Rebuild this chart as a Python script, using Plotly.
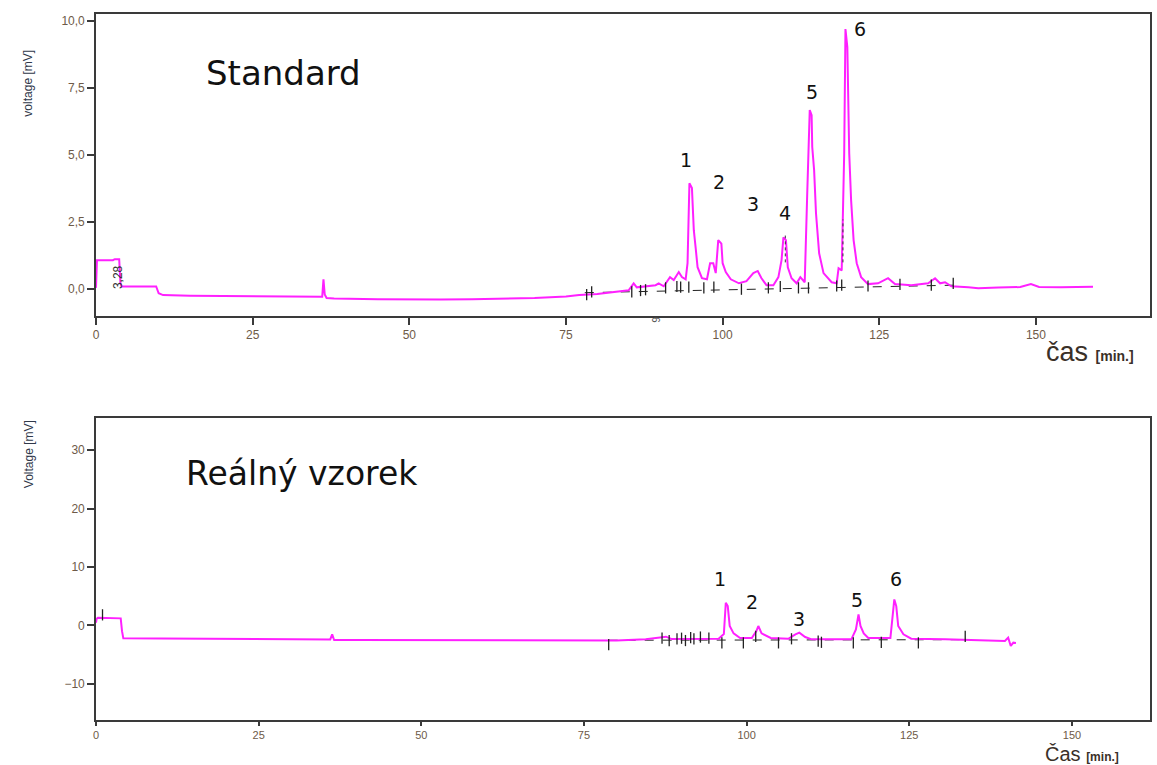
import plotly.graph_objects as go

# ---------------- data: Standard (top) ----------------
std_time = [0.0, 0.1, 0.15, 2.7, 3.0, 3.7, 3.9, 4.1, 4.4, 9.6, 10.0, 10.7, 15, 20, 25, 30, 35.6, 36.1, 36.3, 36.5, 36.8,
            38, 45, 50, 55, 60, 65, 70, 75, 77.1, 80, 82, 85.0, 85.8, 86.3, 89.3, 89.8, 90.6, 91.6, 92.2, 93.0,
            93.5, 94.1, 94.4, 94.7, 95.1, 95.4, 95.7, 96.0, 96.7, 97.5, 98.0, 98.5, 98.9, 99.3, 99.8, 100.0,
            100.5, 101.3, 102.6, 103.8, 104.9, 105.6, 106.2, 107.0, 108.1, 108.9, 109.4, 109.7, 110.1, 110.4,
            111.0, 111.8, 112.4, 113.1, 113.5, 113.9, 114.2, 114.3, 114.6, 114.9, 115.4, 116.1, 117.4, 118.2,
            118.5, 119.0, 119.4, 119.6, 119.9, 120.2, 120.5, 120.9, 121.4, 122.1, 123.2, 124.8, 126.4, 127.5,
            130.1, 132.8, 133.9, 134.7, 135.5, 136.5, 139.2, 140.8, 144.0, 147.5, 149.2, 150.5, 154, 157, 159.1]
std_voltage = [0.05, 0.6, 1.08, 1.08, 1.12, 1.12, 0.22, 0.1, 0.1, 0.1, -0.15, -0.22, -0.24, -0.25, -0.26, -0.27, -0.28, -0.28, 0.37, -0.2, -0.33,
               -0.35, -0.37, -0.38, -0.38, -0.37, -0.36, -0.33, -0.27, -0.22, -0.18, -0.12, -0.04, 0.22, 0.07, 0.15, 0.22, 0.11, 0.45, 0.34, 0.64,
               0.45, 0.37, 0.97, 3.95, 3.77, 2.2, 1.53, 0.82, 0.41, 0.37, 0.97, 0.97, 0.6, 1.83, 1.7, 0.97,
               0.64, 0.37, 0.22, 0.3, 0.6, 0.68, 0.41, 0.15, 0.15, 0.45, 1.08, 1.93, 1.83, 0.82,
               0.41, 0.22, 0.45, 0.26, 3.57, 6.68, 6.49, 5.3, 4.44, 2.83, 1.34, 0.6, 0.26, 0.22,
               0.78, 0.7, 5.07, 9.7, 9.03, 5.07, 3.32, 1.83, 0.97, 0.45, 0.19, 0.22, 0.41, 0.19,
               0.15, 0.22, 0.41, 0.22, 0.26, 0.11, 0.07, 0.04, 0.06, 0.08, 0.19, 0.08, 0.07, 0.09, 0.09]

std_base_time = [78.0, 137.0]
std_base_voltage = [-0.13, 0.15]
std_mark_time = [78.3, 79.1, 85.5, 86.9, 87.7, 90.9, 92.7, 93.3, 94.6, 97.0, 98.6, 103.0, 107.3, 109.2,
                 112.1, 113.7, 118.2, 119.0, 123.2, 128.3, 133.3, 136.8]
std_mark_voltage = [-0.2, -0.1, -0.1, -0.05, -0.02, 0.05, 0.1, 0.08, 0.08, 0.05, 0.08, 0.0, 0.05, 0.1,
                    0.05, 0.05, 0.12, 0.15, 0.12, 0.18, 0.15, 0.22]
std_peak_time = [94.1, 99.4, 104.8, 110.0, 114.2, 122.0]
std_peak_level = [4.81, 3.99, 3.17, 2.84, 7.35, 9.70]
std_peak_label = ["1", "2", "3", "4", "5", "6"]

# ---------------- data: Reálný vzorek (bottom) ----------------
smp_time = [0.0, 0.1, 0.3, 3.4, 3.8, 4.0, 4.2, 10, 20, 28, 33.3, 36.0, 36.3, 36.6, 40, 50, 60, 70, 74.2,
            80, 84.5, 87.6, 88.5, 92, 95.7, 96.5, 96.8, 97.1, 97.4, 98.0, 99.0, 100.8, 101.5, 101.8, 102.3,
            103.7, 106.4, 107.5, 108.1, 109.0, 110.0, 116.1, 116.8, 117.2, 117.5, 118.0, 118.7, 122.1, 122.4,
            122.7, 123.0, 123.3, 124.1, 125.3, 130.5, 135, 139.7, 140.2, 140.6, 141.0, 141.4]
smp_voltage = [0.46, 1.14, 1.3, 1.3, 1.2, -1.0, -2.22, -2.24, -2.26, -2.28, -2.34, -2.4, -1.54, -2.5, -2.5, -2.55, -2.62, -2.65, -2.68,
               -2.6, -2.39, -1.94, -2.35, -2.3, -2.28, -1.5, 3.87, 3.3, -0.1, -1.37, -2.16, -2.16, -0.97, -0.11, -1.37,
               -2.16, -2.3, -1.54, -1.25, -2.0, -2.39, -2.39, -0.68, 1.88, -0.11, -1.37, -2.16, -2.16, 1.03,
               4.44, 3.3, -0.11, -1.54, -2.28, -2.39, -2.5, -2.68, -2.1, -3.53, -2.96, -3.0]

smp_base_time = [78.8, 134.0]
smp_base_voltage = [-2.55, -2.45]
smp_mark_time = [1.0, 78.8, 87.0, 88.1, 89.3, 90.0, 90.6, 91.4, 91.9, 92.9, 94.2, 96.2, 99.5, 101.4, 104.9,
                 106.9, 111.0, 111.5, 116.4, 120.7, 126.4, 133.6]
smp_mark_voltage = [1.8, -3.3, -2.2, -2.6, -2.3, -2.2, -2.6, -2.1, -2.3, -2.0, -2.2, -3.0, -3.0, -1.9, -3.0,
                    -2.3, -2.7, -2.9, -3.0, -2.9, -3.0, -1.9]
smp_peak_time = [95.9, 100.9, 108.1, 117.0, 123.0]
smp_peak_level = [7.86, 3.93, 1.03, 4.27, 7.86]
smp_peak_label = ["1", "2", "3", "5", "6"]

x_ticks = [0, 25, 50, 75, 100, 125, 150]
std_y_ticks = [0, 2.5, 5, 7.5, 10]
smp_y_ticks = [-10, 0, 10, 20, 30]

MAG = "#ff20ff"
TICKC = "#6e5a48"
LINEC = "#3a3a3a"

fig = go.Figure()

# top
fig.add_trace(go.Scatter(x=std_base_time, y=std_base_voltage, mode="lines",
                         line=dict(color="#222", width=1, dash="dash"), xaxis="x", yaxis="y"))
fig.add_trace(go.Scatter(x=std_time, y=std_voltage, mode="lines",
                         line=dict(color=MAG, width=2), xaxis="x", yaxis="y"))
fig.add_trace(go.Scatter(x=std_mark_time, y=std_mark_voltage, mode="markers",
                         marker=dict(symbol="line-ns", size=8, line=dict(width=1.3, color="#222")),
                         xaxis="x", yaxis="y"))
fig.add_trace(go.Scatter(x=[110.0, 110.0, None, 119.2, 119.2], y=[1.0, 2.0, None, 1.0, 2.6], mode="lines",
                         line=dict(color="#333", width=1, dash="dot"), xaxis="x", yaxis="y"))

# bottom
fig.add_trace(go.Scatter(x=smp_base_time, y=smp_base_voltage, mode="lines",
                         line=dict(color="#222", width=1, dash="dash"), xaxis="x2", yaxis="y2"))
fig.add_trace(go.Scatter(x=smp_time, y=smp_voltage, mode="lines",
                         line=dict(color=MAG, width=2), xaxis="x2", yaxis="y2"))
fig.add_trace(go.Scatter(x=smp_mark_time, y=smp_mark_voltage, mode="markers",
                         marker=dict(symbol="line-ns", size=8, line=dict(width=1.3, color="#222")),
                         xaxis="x2", yaxis="y2"))

ann = []
for t, v, s in zip(std_peak_time, std_peak_level, std_peak_label):
    ann.append(dict(x=t, y=v, xref="x", yref="y", text=s, showarrow=False,
                    font=dict(family="DejaVu Sans", size=19, color="#111")))
for t, v, s in zip(smp_peak_time, smp_peak_level, smp_peak_label):
    ann.append(dict(x=t, y=v, xref="x2", yref="y2", text=s, showarrow=False,
                    font=dict(family="DejaVu Sans", size=19, color="#111")))

ann.append(dict(x=29.9, y=8.06, xref="x", yref="y", text="Standard", showarrow=False,
                font=dict(family="DejaVu Sans", size=34, color="#111")))
ann.append(dict(x=31.7, y=26.0, xref="x2", yref="y2", text="Reálný vzorek", showarrow=False,
                font=dict(family="DejaVu Sans", size=33, color="#111")))

ann.append(dict(x=3.5, y=0.45, xref="x", yref="y", text="3,28", textangle=-90, showarrow=False,
                font=dict(family="Liberation Sans", size=12, color="#333")))
ann.append(dict(x=(657 - 96) / 1056, y=(720 - 320) / 706, xref="paper", yref="paper", text="6",
                textangle=90, showarrow=False, font=dict(family="Liberation Sans", size=10, color="#555")))

# axis titles
ann.append(dict(x=(19 - 96) / 1056, y=(720 - 48) / 706, xref="paper", yref="paper", text="voltage [mV]",
                textangle=-90, showarrow=False, font=dict(family="Liberation Sans", size=12, color="#30384a")))
ann.append(dict(x=(20 - 96) / 1056, y=(720 - 454) / 706, xref="paper", yref="paper", text="Voltage [mV]",
                textangle=-90, showarrow=False, font=dict(family="Liberation Sans", size=12, color="#30384a")))
ann.append(dict(x=(1046 - 96) / 1056, y=(720 - 352) / 706, xref="paper", yref="paper", xanchor="left",
                text="čas <span style='font-size:14px'><b>[min.]</b></span>", showarrow=False,
                font=dict(family="Liberation Sans", size=27, color="#3a3028")))
ann.append(dict(x=(1046 - 96) / 1056, y=(720 - 766) / 706, xref="paper", yref="paper", xanchor="left",
                yanchor="bottom", borderpad=0,
                text="Čas <span style='font-size:12px'><b>[min.]</b></span>", showarrow=False,
                font=dict(family="Liberation Sans", size=20, color="#3a3028")))

axis_common = dict(showline=True, mirror=True, linecolor=LINEC, linewidth=1.6, showgrid=False, zeroline=False,
                   ticks="outside", ticklen=7, tickwidth=1.6, tickcolor=LINEC,
                   tickfont=dict(family="Liberation Sans", size=12, color=TICKC))
axis_bottom = dict(axis_common, ticklen=4, tickfont=dict(family="Liberation Sans", size=11, color=TICKC))

fig.update_layout(
    width=1157, height=765,
    margin=dict(l=96, r=5, t=14, b=45),
    paper_bgcolor="white", plot_bgcolor="white",
    showlegend=False,
    separators=",.",
    annotations=ann,
    xaxis=dict(domain=[0, 1], anchor="y", range=[0, 168.2], tickvals=x_ticks, **axis_common),
    yaxis=dict(domain=[0.5722, 1], anchor="x", range=[-1.0, 10.26], tickvals=std_y_ticks, tickformat=".1f",
               **axis_common),
    xaxis2=dict(domain=[0, 1], anchor="y2", range=[0, 162], tickvals=x_ticks, **axis_bottom),
    yaxis2=dict(domain=[0, 0.4278], anchor="x2", range=[-16.2, 35.5], tickvals=smp_y_ticks, **axis_common),
)

fig.write_html("out.html")
